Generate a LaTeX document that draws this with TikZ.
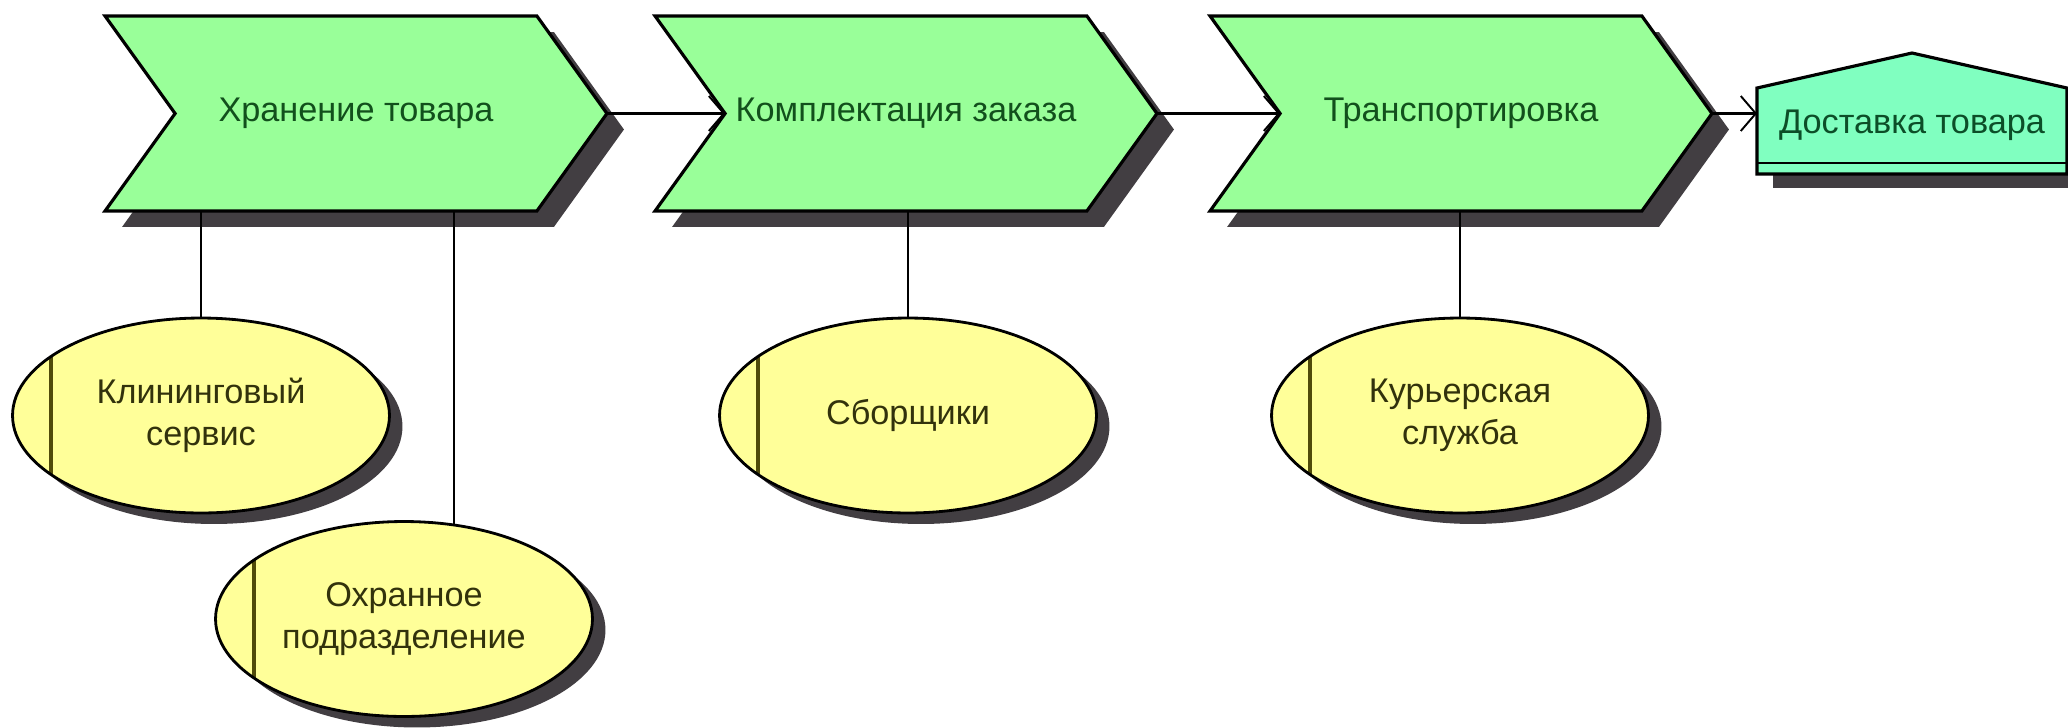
\documentclass[tikz,border=0pt]{standalone}
\usepackage{fontspec}
\setmainfont{Liberation Sans}
\usetikzlibrary{shapes.symbols,shapes.geometric,shadows,arrows.meta,calc,backgrounds}

\definecolor{procfill}{RGB}{153,255,153}
\definecolor{evfill}{RGB}{128,255,192}
\definecolor{orgfill}{RGB}{255,255,153}
\definecolor{shadowgray}{RGB}{66,62,66}
\definecolor{proctext}{RGB}{18,80,28}
\definecolor{orgtext}{RGB}{50,50,12}
\definecolor{evtext}{RGB}{12,78,40}
\definecolor{orgbar}{RGB}{80,75,10}

\begin{document}
\begin{tikzpicture}[x=0.02cm,y=-0.02cm,
  font=\fontsize{19.5}{24}\selectfont,
  func/.style={signal, signal from=west, signal to=east, signal pointer angle=108.6,
    minimum width=10.04cm, minimum height=3.9cm, inner sep=0pt, outer sep=0pt,
    draw=black, line width=1.8pt, fill=procfill, text=proctext,
    drop shadow={shadow xshift=0.34cm, shadow yshift=-0.32cm, fill=shadowgray, opacity=1}},
  unit/.style={ellipse, minimum width=7.54cm, minimum height=3.9cm, inner sep=0pt,
    outer sep=0pt, draw=black, line width=1.6pt, fill=orgfill, text=orgtext, align=center,
    drop shadow={shadow xshift=0.26cm, shadow yshift=-0.22cm, fill=shadowgray, opacity=1},
    path picture={\draw[orgbar, line width=2pt]
      ([xshift=-3cm]path picture bounding box.north) --
      ([xshift=-3cm]path picture bounding box.south);}},
  eventbox/.style={rectangle, minimum width=6.2cm, minimum height=1.5cm,
    inner sep=0pt, outer sep=0pt, text=evtext},
  link/.style={line width=1.6pt},
  flow/.style={line width=1.3pt, -{Straight Barb[length=0.3cm, width=0.7cm, line width=1.1pt]}}
]
\useasboundingbox (0,0) rectangle (2068,727);

% process chain
\node[func] (c1) at (356,113.5) {Хранение товара};
\node[func] (c2) at (906,113.5) {Комплектация заказа};
\node[func] (c3) at (1461,113.5) {Транспортировка};

% organisational units
\node[unit] (e1) at (201,415.5) {Клининговый\\сервис};
\node[unit] (e2) at (404,619) {Охранное\\подразделение};
\node[unit] (e3) at (908,415.5) {Сборщики};
\node[unit] (e4) at (1460,415.5) {Курьерская\\служба};

% final event
\node[eventbox] (ev) at (1912,125.5) {Доставка товара};
\begin{scope}[on background layer]
  \fill[shadowgray] ([shift={(16,14)}]ev.north west) -- ([shift={(16,14)}]ev.north)
    -- ([shift={(16,14)}]ev.north east) -- ([shift={(16,25)}]ev.south east)
    -- ([shift={(16,25)}]ev.south west) -- cycle;
  \path[draw=black, line width=1.8pt, fill=evfill]
    (ev.north west) -- ([yshift=0.7cm]ev.north) -- (ev.north east)
    -- ([yshift=-0.22cm]ev.south east) -- ([yshift=-0.22cm]ev.south west) -- cycle;
  \draw[line width=1.6pt] (ev.south west) -- (ev.south east);
\end{scope}

% control flow
\draw[flow] (c1.east) -- (c2.west);
\draw[flow] (c2.east) -- (c3.west);
\draw[flow] (c3.east) -- (c3.east -| ev.west);

% unit assignments
\draw[link] (e1.north) -- (e1.north |- c1.south);
\draw[link] (e2.62) -- (e2.62 |- c1.south);
\draw[link] (e3.north) -- (e3.north |- c2.south);
\draw[link] (e4.north) -- (e4.north |- c3.south);
\end{tikzpicture}
\end{document}
